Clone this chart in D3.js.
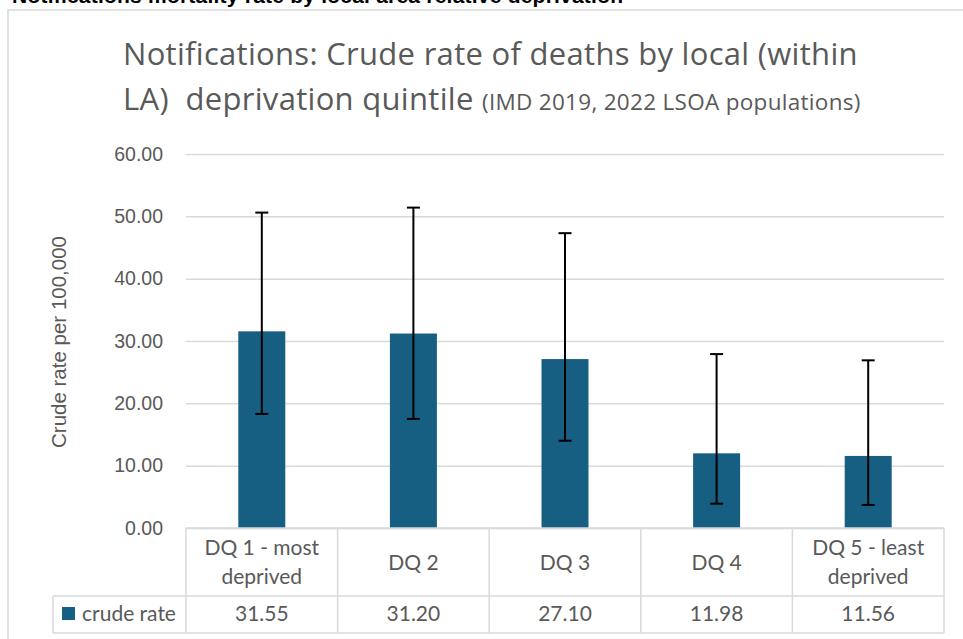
<!DOCTYPE html>
<html>
<head>
<meta charset="utf-8">
<script src="https://cdn.jsdelivr.net/npm/d3@7"></script>
<style>
  html, body { margin: 0; padding: 0; background: #fff; }
  #svg-container { width: 963px; height: 639px; }
  text { fill: #595959; }
</style>
</head>
<body>
<div id="svg-container"></div>
<script>
// data
const categories = ["DQ 1 - most deprived", "DQ 2", "DQ 3", "DQ 4", "DQ 5 - least deprived"];
const categoryLines = [["DQ 1 - most", "deprived"], ["DQ 2"], ["DQ 3"], ["DQ 4"], ["DQ 5 - least", "deprived"]];
const crudeRate = [31.55, 31.20, 27.10, 11.98, 11.56];
const lowerCI = [18.3, 17.5, 14.0, 3.9, 3.7];
const upperCI = [50.6, 51.4, 47.3, 27.9, 26.9];
const yTicks = [0, 10, 20, 30, 40, 50, 60];
const seriesName = "crude rate";

const width = 963;
const height = 639;
const margin = { top: 154, right: 19, bottom: 111, left: 186 };
const barColor = "#175f82";
const gridColor = "#d9d9d9";

const svg = d3.select("#svg-container").append("svg")
  .attr("width", width)
  .attr("height", height);

// scales
const xScale = d3.scaleBand()
  .domain(categories)
  .range([margin.left, width - margin.right])
  .paddingInner(0.69)
  .paddingOuter(0.345);

const yScale = d3.scaleLinear()
  .domain([0, 60])
  .range([height - margin.bottom, margin.top]);

// header (cut off at top of the page)
svg.append("text")
  .attr("x", 12)
  .attr("y", 3)
  .attr("textLength", 611)
  .style("font-family", "Liberation Sans, Arial, sans-serif")
  .style("font-size", "21px")
  .style("font-weight", "bold")
  .style("fill", "#000")
  .text("Notifications mortality rate by local area relative deprivation");

// chart frame
svg.append("rect")
  .attr("x", 8)
  .attr("y", 10)
  .attr("width", 970)
  .attr("height", 650)
  .attr("fill", "none")
  .attr("stroke", gridColor)
  .attr("stroke-width", 1.5);

// title
const title = svg.append("g")
  .style("font-family", "Open Sans, sans-serif")
  .style("letter-spacing", "0.3px");

title.append("text")
  .attr("x", 123)
  .attr("y", 65)
  .style("font-size", "31px")
  .text("Notifications: Crude rate of deaths by local (within");

const t2 = title.append("text")
  .attr("x", 123)
  .attr("y", 110)
  .style("font-size", "31px");
t2.append("tspan").text("LA)\u00a0\u00a0deprivation quintile ");
t2.append("tspan").style("font-size", "22.5px").text("(IMD 2019, 2022 LSOA populations)");

// y axis + gridlines
const yAxis = d3.axisLeft(yScale)
  .tickValues(yTicks)
  .tickFormat(d3.format(".2f"))
  .tickSize(-(width - margin.left - margin.right))
  .tickPadding(23);

svg.append("g")
  .attr("class", "y-axis")
  .attr("transform", `translate(${margin.left},0)`)
  .call(yAxis)
  .call((g) => g.select(".domain").remove())
  .call((g) => g.selectAll(".tick line").attr("stroke", gridColor).attr("stroke-width", 1.5))
  .call((g) => g.selectAll(".tick text")
    .style("font-family", "Liberation Sans, Arial, sans-serif")
    .style("font-size", "19.5px")
    .attr("fill", "#595959"));

svg.append("text")
  .attr("transform", `translate(66, ${yScale(30) + 1}) rotate(-90)`)
  .attr("text-anchor", "middle")
  .style("font-family", "Liberation Sans, Arial, sans-serif")
  .style("font-size", "20.5px")
  .text("Crude rate per 100,000");

// bars
svg.selectAll(".bar")
  .data(crudeRate)
  .join("rect")
  .attr("class", "bar")
  .attr("x", (d, i) => xScale(categories[i]))
  .attr("y", (d) => yScale(d))
  .attr("width", xScale.bandwidth())
  .attr("height", (d) => yScale(0) - yScale(d))
  .attr("fill", barColor);

// error bars
const errG = svg.append("g")
  .attr("stroke", "#000")
  .attr("stroke-width", 2);

categories.forEach((c, i) => {
  const cx = xScale(c) + xScale.bandwidth() / 2;
  errG.append("line")
    .attr("x1", cx).attr("x2", cx)
    .attr("y1", yScale(upperCI[i])).attr("y2", yScale(lowerCI[i]));
  [upperCI[i], lowerCI[i]].forEach((v) => {
    errG.append("line")
      .attr("x1", cx - 6.5).attr("x2", cx + 6.5)
      .attr("y1", yScale(v)).attr("y2", yScale(v));
  });
});

// data table
const step = xScale.step();
const tableTop = yScale(0);
const rowSplit = 596;
const tableBottom = 633;
const legendLeft = 53;
const x0 = margin.left;
const x1 = width - margin.right;

const table = svg.append("g")
  .attr("stroke", gridColor)
  .attr("stroke-width", 1.5)
  .attr("fill", "none");

table.append("line").attr("x1", x0).attr("x2", x1).attr("y1", tableTop).attr("y2", tableTop);
table.append("line").attr("x1", legendLeft).attr("x2", x1).attr("y1", rowSplit).attr("y2", rowSplit);
table.append("line").attr("x1", legendLeft).attr("x2", x1).attr("y1", tableBottom).attr("y2", tableBottom);
table.append("line").attr("x1", legendLeft).attr("x2", legendLeft).attr("y1", rowSplit).attr("y2", tableBottom);
d3.range(categories.length + 1).forEach((i) => {
  const lx = x0 + i * step;
  table.append("line").attr("x1", lx).attr("x2", lx).attr("y1", tableTop).attr("y2", tableBottom);
});

const tableText = svg.append("g")
  .style("font-family", "Lato, sans-serif")
  .style("font-size", "21px")
  .attr("text-anchor", "middle");

categories.forEach((c, i) => {
  const cx = x0 + (i + 0.5) * step;
  const lines = categoryLines[i];
  const t = tableText.append("text")
    .attr("x", cx)
    .attr("y", lines.length === 1 ? 570 : 555);
  lines.forEach((l, j) => {
    t.append("tspan").attr("x", cx).attr("dy", j === 0 ? 0 : 29).text(l);
  });
  tableText.append("text")
    .attr("x", cx)
    .attr("y", 621)
    .text(crudeRate[i].toFixed(2));
});

// legend key in table
svg.append("rect")
  .attr("x", 62)
  .attr("y", 607)
  .attr("width", 13)
  .attr("height", 13)
  .attr("fill", barColor);

svg.append("text")
  .attr("x", 82)
  .attr("y", 621)
  .style("font-family", "Lato, sans-serif")
  .style("font-size", "21px")
  .text(seriesName);
</script>
</body>
</html>
